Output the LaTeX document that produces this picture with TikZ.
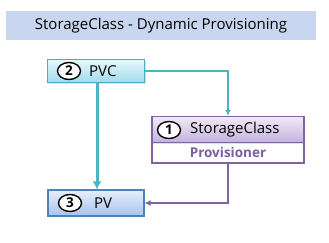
\documentclass[tikz,border=0pt]{standalone}
\usepackage{fontspec}
\setmainfont{Open Sans}
\usetikzlibrary{arrows.meta,shadows,shapes.geometric}
\definecolor{titlefill}{HTML}{C8D6EF}
\definecolor{aquaB}{HTML}{4BACC6}
\definecolor{aquaT}{HTML}{E8F7FC}
\definecolor{aquaBot}{HTML}{A3DBEC}
\definecolor{purB}{HTML}{8064A2}
\definecolor{purT}{HTML}{F0EAF7}
\definecolor{purBot}{HTML}{C3B2DC}
\definecolor{provtxt}{HTML}{7A5E9E}
\definecolor{bluB}{HTML}{4F81BD}
\definecolor{bluT}{HTML}{E6EEFB}
\definecolor{bluBot}{HTML}{A8C3EE}
\definecolor{conn}{HTML}{4FB3C6}
\begin{document}
\begin{tikzpicture}[x=1pt,y=-1pt,
  boxbase/.style={rectangle, inner sep=0pt, line width=1.1pt,
    drop shadow={shadow xshift=1.2pt, shadow yshift=-1.2pt, opacity=0.25}},
  pvcbox/.style={boxbase, draw=aquaB, top color=aquaT, bottom color=aquaBot,
    minimum width=97pt, minimum height=23pt},
  pvbox/.style={boxbase, draw=bluB, top color=bluT, bottom color=bluBot,
    minimum width=96pt, minimum height=26pt},
  schead/.style={boxbase, draw=purB, top color=purT, bottom color=purBot,
    minimum width=152pt, minimum height=26pt},
  provbox/.style={rectangle, inner sep=0pt, line width=1.1pt, draw=purB, fill=white,
    minimum width=152pt, minimum height=21pt, text=provtxt, font=\fontsize{13.5}{15}\selectfont\bfseries},
  numcirc/.style={ellipse, draw=black, fill=white, line width=1.4pt, inner sep=0pt,
    minimum width=23pt, minimum height=17pt, font=\fontsize{13.5}{15}\selectfont\bfseries},
  lbl/.style={anchor=west, inner sep=0pt, font=\fontsize{15}{17}\selectfont},
  tip/.style={-{Latex[length=6pt,width=6pt]}}
]
\useasboundingbox (0,0) rectangle (329,243);
\node[rectangle, fill=titlefill, minimum width=310pt, minimum height=29pt, inner sep=0pt,
  font=\fontsize{15}{17}\selectfont] (title) at (161,25.5) {StorageClass - Dynamic Provisioning};

\node[pvcbox] (pvc) at (96,71) {};
\node[numcirc] (n2) at (69,71) {2};
\node[lbl] (pvct) at (89,71) {PVC};

\node[provbox] (prov) at (228,152.5) {Provisioner};
\node[schead] (sc) at (228,129.5) {};
\node[numcirc] (n1) at (169,130) {1};
\node[lbl] (sct) at (190,130) {StorageClass};

\node[pvbox] (pv) at (96,203) {};
\node[numcirc] (n3) at (70,203) {3};
\node[lbl] (pvt) at (94,203) {PV};

\draw[conn, line width=1.3pt, tip] (pvc.east) -| (sc.north);
\draw[conn, line width=3pt, -{Latex[length=8pt,width=9pt]}] ([xshift=1pt]pvc.south) -- ([xshift=1pt]pv.north);
\draw[purB, line width=1.3pt, tip] (prov.south) |- (pv.east);
\end{tikzpicture}
\end{document}
